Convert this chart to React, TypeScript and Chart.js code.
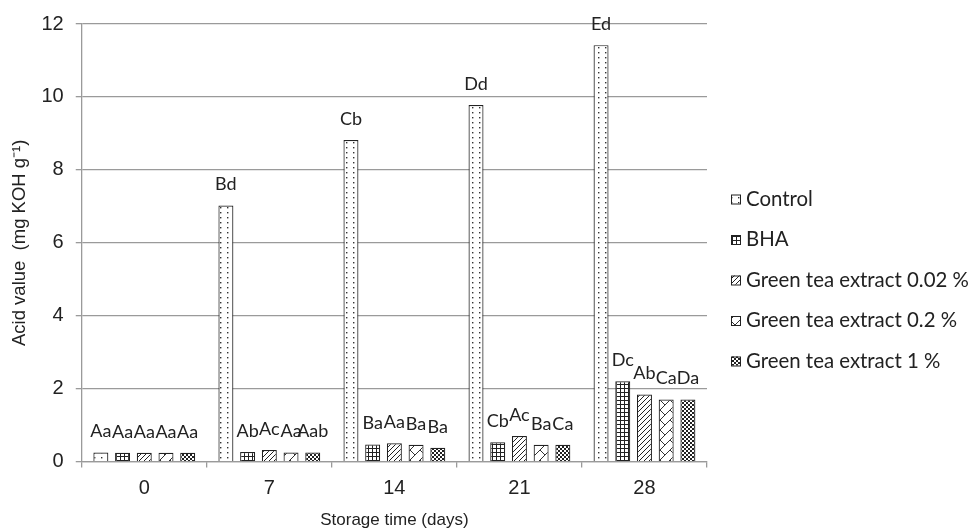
import React, { useEffect, useRef } from "react";
import { Chart, registerables } from "chart.js";

Chart.register(...registerables);

const days = ["0", "7", "14", "21", "28"];
const seriesNames = [
  "Control",
  "BHA",
  "Green tea extract 0.02 %",
  "Green tea extract 0.2 %",
  "Green tea extract 1 %",
];
const controlValues = [0.25, 7.02, 8.82, 9.78, 11.42];
const bhaValues = [0.24, 0.26, 0.47, 0.53, 2.2];
const gte002Values = [0.24, 0.32, 0.5, 0.7, 1.84];
const gte02Values = [0.24, 0.25, 0.46, 0.46, 1.7];
const gte1Values = [0.24, 0.25, 0.38, 0.46, 1.7];

const controlLabels = ["Aa", "Bd", "Cb", "Dd", "Ed"];
const bhaLabels = ["Aa", "Ab", "Ba", "Cb", "Dc"];
const gte002Labels = ["Aa", "Ac", "Aa", "Ac", "Ab"];
const gte02Labels = ["Aa", "Aa", "Ba", "Ba", "Ca"];
const gte1Labels = ["Aa", "Aab", "Ba", "Ca", "Da"];

const yTicks = [0, 2, 4, 6, 8, 10, 12];

function makePattern(kind: string): CanvasPattern | string {
  const c = document.createElement("canvas");
  const ctx = c.getContext("2d")!;
  if (kind === "dots") {
    c.width = 7; c.height = 5;
    ctx.fillStyle = "#fff"; ctx.fillRect(0, 0, 7, 5);
    ctx.fillStyle = "#333"; ctx.fillRect(3, 2, 1.4, 1.4);
  } else if (kind === "grid") {
    c.width = 4; c.height = 4;
    ctx.fillStyle = "#fff"; ctx.fillRect(0, 0, 4, 4);
    ctx.fillStyle = "#222"; ctx.fillRect(0, 0, 4, 1); ctx.fillRect(0, 0, 1, 4);
  } else if (kind === "diag") {
    c.width = 5; c.height = 5;
    ctx.fillStyle = "#fff"; ctx.fillRect(0, 0, 5, 5);
    ctx.strokeStyle = "#222"; ctx.lineWidth = 1;
    ctx.beginPath();
    for (let k = -5; k <= 10; k += 5) { ctx.moveTo(k, 5); ctx.lineTo(k + 5, 0); }
    ctx.stroke();
  } else if (kind === "zigzag") {
    c.width = 10; c.height = 10;
    ctx.fillStyle = "#fff"; ctx.fillRect(0, 0, 10, 10);
    ctx.strokeStyle = "#333"; ctx.lineWidth = 1;
    ctx.beginPath();
    for (let k = -10; k <= 20; k += 10) { ctx.moveTo(k, 10); ctx.lineTo(k + 10, 0); }
    ctx.moveTo(0, 0); ctx.lineTo(5, 5);
    ctx.moveTo(5, 10); ctx.lineTo(10, 15);
    ctx.stroke();
  } else {
    c.width = 4; c.height = 4;
    ctx.fillStyle = "#fff"; ctx.fillRect(0, 0, 4, 4);
    ctx.fillStyle = "#222"; ctx.fillRect(0, 0, 2, 2); ctx.fillRect(2, 2, 2, 2);
  }
  return ctx.createPattern(c, "repeat") || "#fff";
}

export default function App() {
  const ref = useRef<HTMLCanvasElement>(null);
  useEffect(() => {
    const canvas = ref.current!;
    const patterns = ["dots", "grid", "diag", "zigzag", "checker"].map(makePattern);
    const values = [controlValues, bhaValues, gte002Values, gte02Values, gte1Values];
    const labelSets = [controlLabels, bhaLabels, gte002Labels, gte02Labels, gte1Labels];

    const labelPlugin = {
      id: "barLabels",
      afterDatasetsDraw(chart: any) {
        const ctx = chart.ctx;
        ctx.save();
        ctx.font = "18px Lato";
        ctx.fillStyle = "#222";
        ctx.textAlign = "center";
        ctx.textBaseline = "middle";
        chart.data.datasets.forEach((_d: any, i: number) => {
          const meta = chart.getDatasetMeta(i);
          meta.data.forEach((bar: any, j: number) => {
            ctx.fillText(labelSets[i][j], bar.x, bar.y - 21);
          });
        });
        ctx.restore();
      },
    };

    const legendPlugin = {
      id: "sideLegend",
      afterDraw(chart: any) {
        const ctx = chart.ctx;
        ctx.save();
        ctx.font = "20.4px Lato";
        ctx.textAlign = "left";
        ctx.textBaseline = "middle";
        chart.data.datasets.forEach((d: any, i: number) => {
          const cy = 199 + i * 40.5;
          ctx.fillStyle = d.backgroundColor;
          ctx.fillRect(731, cy - 4.5, 9, 9);
          ctx.strokeStyle = "#222";
          ctx.lineWidth = 1;
          ctx.strokeRect(731.5, cy - 4, 9, 9);
          ctx.fillStyle = "#222";
          ctx.fillText(d.label, 746, cy);
        });
        ctx.restore();
      },
    };

    const chart = new Chart(canvas, {
      type: "bar",
      data: {
        labels: days,
        datasets: seriesNames.map((name, i) => ({
          label: name,
          data: values[i],
          backgroundColor: patterns[i] as any,
          borderColor: "#222",
          borderWidth: 1.2,
          categoryPercentage: 0.868,
          barPercentage: 0.69,
        })),
      },
      options: {
        responsive: false,
        animation: false,
        devicePixelRatio: 1,
        layout: { padding: { top: 24, right: 263, bottom: 1, left: 11 } },
        plugins: { legend: { display: false }, tooltip: { enabled: false } },
        scales: {
          x: {
            grid: { drawOnChartArea: false, tickLength: 6, color: "#9a9a9a", lineWidth: 1.3 },
            border: { color: "#9a9a9a", width: 1.3 },
            ticks: { font: { family: "Liberation Sans", size: 20 }, color: "#222", padding: 9 },
            title: {
              display: true,
              text: "Storage time (days)",
              font: { family: "Liberation Sans", size: 17 },
              color: "#222",
              padding: { top: 1, bottom: 0 },
            },
          },
          y: {
            min: 0,
            max: 12,
            afterBuildTicks: (axis: any) => {
              axis.ticks = yTicks.map((v) => ({ value: v }));
            },
            grid: { tickLength: 6, color: "#9a9a9a", lineWidth: 1.3 },
            border: { color: "#9a9a9a", width: 1.3 },
            ticks: { font: { family: "Liberation Sans", size: 20 }, color: "#222", padding: 12 },
            title: {
              display: true,
              text: "Acid value  (mg KOH g\u207B\u00B9)",
              font: { family: "Liberation Sans", size: 18.5, lineHeight: 1 },
              color: "#222",
              padding: { top: 0, bottom: 0 },
            },
          },
        },
      },
      plugins: [labelPlugin, legendPlugin],
    });
    return () => chart.destroy();
  }, []);

  return (
    <div style={{ position: "absolute", left: 0, top: 0, width: 970, height: 532, background: "#fff" }}>
      <canvas ref={ref} width={970} height={532} />
    </div>
  );
}
